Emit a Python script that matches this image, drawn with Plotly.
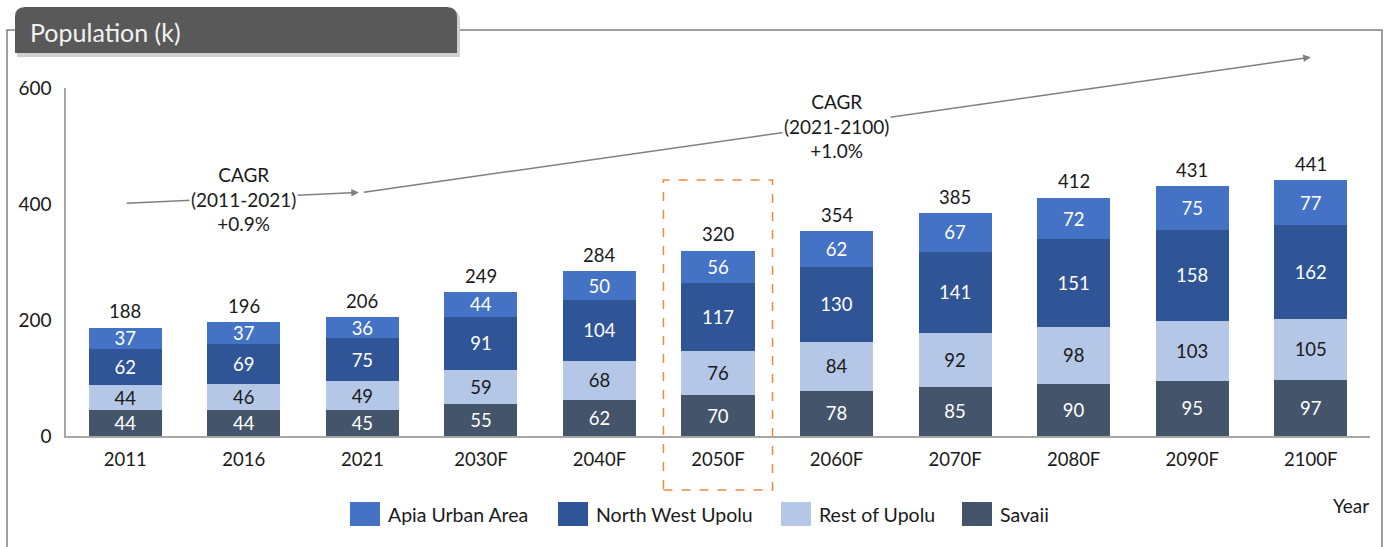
import plotly.graph_objects as go

# ---------------- data ----------------
years = ["2011", "2016", "2021", "2030F", "2040F", "2050F", "2060F", "2070F", "2080F", "2090F", "2100F"]
savaii = [44, 44, 45, 55, 62, 70, 78, 85, 90, 95, 97]
rest_of_upolu = [44, 46, 49, 59, 68, 76, 84, 92, 98, 103, 105]
north_west_upolu = [62, 69, 75, 91, 104, 117, 130, 141, 151, 158, 162]
apia_urban = [37, 37, 36, 44, 50, 56, 62, 67, 72, 75, 77]
totals = [188, 196, 206, 249, 284, 320, 354, 385, 412, 431, 441]

series_names = ["Apia Urban Area", "North West Upolu", "Rest of Upolu", "Savaii"]
cagr_labels = ["CAGR<br>(2011-2021)<br>+0.9%", "CAGR<br>(2021-2100)<br>+1.0%"]
highlight = "2050F"

# ---------------- style ----------------
C_APIA = "#4472C4"
C_NWU = "#2F5597"
C_REST = "#B4C7E7"
C_SAV = "#44546A"
FONT = "Lato"
TXT = "#1a1a1a"
NUM = 18.5
W, H = 1385, 547
ML, MR, MT, MB = 66, 15, 88, 111
PW, PH = W - ML - MR, H - MT - MB


def X(px):
    return (px - ML) / PW


def Y(py):
    return (H - MB - py) / PH


fig = go.Figure()

for name, vals, col, tcol in [
    ("Savaii", savaii, C_SAV, "white"),
    ("Rest of Upolu", rest_of_upolu, C_REST, TXT),
    ("North West Upolu", north_west_upolu, C_NWU, "white"),
    ("Apia Urban Area", apia_urban, C_APIA, "white"),
]:
    fig.add_trace(go.Bar(
        x=years, y=vals, name=name, marker=dict(color=col, line=dict(width=0)),
        text=[str(v) for v in vals], textposition="inside", insidetextanchor="middle",
        textangle=0, constraintext="none",
        textfont=dict(family=FONT, size=NUM, color=tcol),
        showlegend=False, hoverinfo="x+y+name",
    ))

shapes = []
annotations = []

# totals above bars (x given as category index so numeric-looking names are not misread)
for i, t in enumerate(totals):
    annotations.append(dict(x=i, y=t, xref="x", yref="y", text=str(t), showarrow=False,
                            yanchor="bottom", yshift=3, font=dict(family=FONT, size=NUM, color=TXT)))

# outer frame
shapes.append(dict(type="rect", xref="paper", yref="paper", x0=X(7), x1=X(1382), y0=Y(600), y1=Y(30),
                   line=dict(color="#7f7f7f", width=1.5), fillcolor="rgba(0,0,0,0)", layer="below"))

# title tab shadow + box with rounded top corners
rx, ry = 10 / PW, 10 / PH


def tab_path(x0p, x1p, y0p, y1p):
    x0, x1, yt, yb = X(x0p), X(x1p), Y(y0p), Y(y1p)
    return (f"M{x0},{yb} L{x0},{yt - ry} Q{x0},{yt} {x0 + rx},{yt} L{x1 - rx},{yt} "
            f"Q{x1},{yt} {x1},{yt - ry} L{x1},{yb} Z")


shapes.append(dict(type="path", xref="paper", yref="paper", path=tab_path(17, 460, 10, 57),
                   fillcolor="#cfcfcf", line=dict(width=0)))
shapes.append(dict(type="path", xref="paper", yref="paper", path=tab_path(15, 457, 7, 53),
                   fillcolor="#595959", line=dict(width=0)))
annotations.append(dict(xref="paper", yref="paper", x=X(28), y=Y(32), xanchor="left", yanchor="middle",
                        text="Population (k)", showarrow=False,
                        font=dict(family=FONT, size=25, color="#f2f2f2")))

# highlight dashed box around the 2050F bar
hi = years.index(highlight)
n = len(years)
shapes.append(dict(type="rect", xref="x domain", yref="paper",
                   x0=(hi + 0.5 - 0.46) / n, x1=(hi + 0.5 + 0.46) / n, y0=Y(490), y1=Y(180),
                   line=dict(color="#F08A3C", width=1.5, dash="dash"), fillcolor="rgba(0,0,0,0)"))

# CAGR arrows
i0, i1, i2 = 0, years.index("2021"), years.index("2100F")
annotations.append(dict(x=i1 - 0.03, y=420, ax=i0, ay=401, xref="x", yref="y", axref="x", ayref="y",
                        text="", showarrow=True, arrowhead=2, arrowsize=1, arrowwidth=1.5,
                        arrowcolor="#7f7f7f"))
annotations.append(dict(x=i2, y=653, ax=i1, ay=420, xref="x", yref="y", axref="x", ayref="y",
                        text="", showarrow=True, arrowhead=2, arrowsize=1, arrowwidth=1.5,
                        arrowcolor="#7f7f7f"))
annotations.append(dict(x=1, y=409, xref="x", yref="y", text=cagr_labels[0], showarrow=False,
                        bgcolor="white", font=dict(family=FONT, size=19, color=TXT), align="center",
                        borderpad=1))
annotations.append(dict(x=6, y=535, xref="x", yref="y", text=cagr_labels[1], showarrow=False,
                        bgcolor="white", font=dict(family=FONT, size=19, color=TXT), align="center",
                        borderpad=1))

# manual legend
leg_cols = {"Apia Urban Area": C_APIA, "North West Upolu": C_NWU, "Rest of Upolu": C_REST, "Savaii": C_SAV}
leg_x = [350, 558, 781, 962]
for name, lx in zip(series_names, leg_x):
    shapes.append(dict(type="rect", xref="paper", yref="paper", x0=X(lx), x1=X(lx + 30),
                       y0=Y(526), y1=Y(502), fillcolor=leg_cols[name], line=dict(width=0)))
    annotations.append(dict(xref="paper", yref="paper", x=X(lx + 36), y=Y(514), xanchor="left",
                            yanchor="middle", text=name, showarrow=False,
                            font=dict(family=FONT, size=19.5, color=TXT)))

annotations.append(dict(xref="paper", yref="paper", x=X(1351), y=Y(505), xanchor="center",
                        yanchor="middle", text="Year", showarrow=False,
                        font=dict(family=FONT, size=19, color=TXT)))

fig.update_layout(
    width=W, height=H, margin=dict(l=ML, r=MR, t=MT, b=MB),
    barmode="stack", bargap=0.384,
    plot_bgcolor="white", paper_bgcolor="white",
    font=dict(family=FONT, size=18, color=TXT),
    shapes=shapes, annotations=annotations,
    xaxis=dict(type="category", categoryorder="array", categoryarray=years, range=[-0.5, n - 0.5],
               showline=True, linecolor="#a6a6a6", linewidth=1.5, ticks="", showgrid=False,
               tickfont=dict(family=FONT, size=NUM, color=TXT), ticklabelstandoff=6, fixedrange=True),
    yaxis=dict(range=[0, 600], tickvals=[0, 200, 400, 600], showline=True, linecolor="#a6a6a6",
               linewidth=1.5, ticks="", showgrid=False, zeroline=False,
               tickfont=dict(family=FONT, size=19, color=TXT), ticklabelstandoff=9, fixedrange=True),
)

fig.write_html("out.html", config={"displayModeBar": False},
               post_script="document.body.style.margin='0';document.body.style.overflow='hidden';")
